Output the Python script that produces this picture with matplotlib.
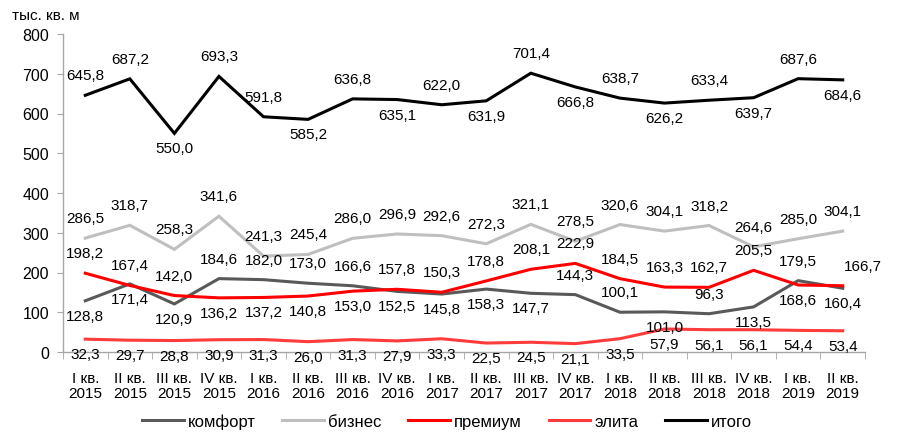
import matplotlib
matplotlib.use("Agg")
import matplotlib.pyplot as plt
import numpy as np

plt.rcParams['font.family'] = ['Liberation Sans', 'DejaVu Sans']

quarters = ["I кв.\n2015", "II кв.\n2015", "III кв.\n2015", "IV кв.\n2015",
            "I кв.\n2016", "II кв.\n2016", "III кв.\n2016", "IV кв.\n2016",
            "I кв.\n2017", "II кв.\n2017", "III кв.\n2017", "IV кв.\n2017",
            "I кв.\n2018", "II кв.\n2018", "III кв.\n2018", "IV кв.\n2018",
            "I кв.\n2019", "II кв.\n2019"]

komfort = [128.8, 171.4, 120.9, 184.6, 182.0, 173.0, 166.6, 152.5, 145.8,
           158.3, 147.7, 144.3, 100.1, 101.0, 96.3, 113.5, 179.5, 160.4]
biznes = [286.5, 318.7, 258.3, 341.6, 241.3, 245.4, 286.0, 296.9, 292.6,
          272.3, 321.1, 278.5, 320.6, 304.1, 318.2, 264.6, 285.0, 304.1]
premium = [198.2, 167.4, 142.0, 136.2, 137.2, 140.8, 153.0, 157.8, 150.3,
           178.8, 208.1, 222.9, 184.5, 163.3, 162.7, 205.5, 168.6, 166.7]
elita = [32.3, 29.7, 28.8, 30.9, 31.3, 26.0, 31.3, 27.9, 33.3,
         22.5, 24.5, 21.1, 33.5, 57.9, 56.1, 56.1, 54.4, 53.4]
itogo = [645.8, 687.2, 550.0, 693.3, 591.8, 585.2, 636.8, 635.1, 622.0,
         631.9, 701.4, 666.8, 638.7, 626.2, 633.4, 639.7, 687.6, 684.6]

# label placement (style): 'a' above, 'b' below
pos_komfort = "bbbaaaabbbbaabab" + "ab"
pos_biznes = "a" * 18
pos_premium = "aaabbbbaaaaaaaaaba"
pos_elita = "b" * 18
pos_itogo = "aabaababababababab"

fig = plt.figure(figsize=(9.01, 4.39), dpi=100)
ax = fig.add_axes([63/901, 1-353/439, (865-63)/901, (353-35)/439])

x = np.arange(len(quarters))
series = [
    ("комфорт", komfort, "#595959", pos_komfort),
    ("бизнес", biznes, "#BFBFBF", pos_biznes),
    ("премиум", premium, "#FF0000", pos_premium),
    ("элита", elita, "#FF3B3B", pos_elita),
    ("итого", itogo, "#000000", pos_itogo),
]
for name, vals, col, pos in series:
    ax.plot(x, vals, color=col, lw=2.2, label=name, solid_joinstyle='miter')
    for i, (xi, v, p) in enumerate(zip(x, vals, pos)):
        dy = 20 if p == 'a' else -15
        dx = 0
        if name == "премиум" and i == len(vals) - 1:
            dx = 20
        ax.annotate(f"{v:.1f}".replace('.', ','), (xi, v),
                    xytext=(dx, dy), textcoords='offset pixels',
                    ha='center', va='center', fontsize=11, color='#000000')

ax.set_xlim(-0.5, len(quarters) - 0.5)
ax.set_ylim(0, 800)
ax.set_yticks(np.arange(0, 801, 100))
ax.tick_params(axis='y', labelsize=11.5, length=4, color='#A6A6A6', pad=6)
ax.set_xticks(x)
ax.set_xticklabels(quarters, fontsize=11, linespacing=1.05)
ax.set_xticks(np.arange(-0.5, len(quarters), 1), minor=True)
ax.tick_params(axis='x', which='major', length=0, pad=14)
ax.tick_params(axis='x', which='minor', length=5, color='#A6A6A6')
for s in ['top', 'right']:
    ax.spines[s].set_visible(False)
for s in ['left', 'bottom']:
    ax.spines[s].set_color('#A6A6A6')
    ax.spines[s].set_linewidth(1.0)

fig.text(12/901, 1-16/439, "тыс. кв. м", fontsize=11, ha='left', va='center')

leg = fig.legend(loc='center', bbox_to_anchor=(447/901, 1-422/439), ncol=5,
                 frameon=False, fontsize=12, handlelength=2.5,
                 handletextpad=0.25, columnspacing=1.6)

fig.savefig("out.png", dpi=100)
